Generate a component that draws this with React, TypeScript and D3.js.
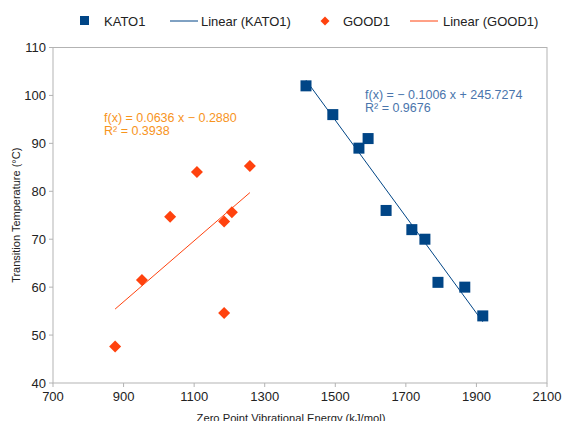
import React from "react";
import * as d3 from "d3";

const katoX = [1417, 1493, 1567, 1593, 1644, 1717, 1754, 1791, 1867, 1918];
const katoY = [102, 96, 89, 91, 76, 72, 70, 61, 60, 54];
const goodX = [876, 952, 1032, 1108, 1185, 1185, 1207, 1258];
const goodY = [47.6, 61.5, 74.7, 84, 54.6, 73.7, 75.6, 85.3];

const katoFit = { slope: -0.1006, intercept: 245.7274 };
const goodFit = { slope: 0.0636, intercept: -0.288 };

const xTicks = [700, 900, 1100, 1300, 1500, 1700, 1900, 2100];
const yTicks = [40, 50, 60, 70, 80, 90, 100, 110];

const katoEq = ["f(x) = − 0.1006 x + 245.7274", "R² = 0.9676"];
const goodEq = ["f(x) = 0.0636 x − 0.2880", "R² = 0.3938"];

const legendLabels = ["KATO1", "Linear (KATO1)", "GOOD1", "Linear (GOOD1)"];

const BLUE = "#004586";
const ORANGE = "#ff420e";
const FONT = "'Liberation Sans', Arial, sans-serif";

export default function App() {
  const W = 563, H = 421;
  const left = 53, right = 547, top = 47.5, bottom = 383;
  const x = d3.scaleLinear().domain([700, 2100]).range([left, right]);
  const y = d3.scaleLinear().domain([40, 110]).range([bottom, top]);

  const line = d3.line<[number, number]>().x(d => x(d[0])).y(d => y(d[1]));
  const fitLine = (xs: number[], f: { slope: number; intercept: number }) => {
    const [a, b] = d3.extent(xs) as [number, number];
    return line([[a, f.slope * a + f.intercept], [b, f.slope * b + f.intercept]]) || "";
  };

  const sq = 11;
  const diamond = (cx: number, cy: number, r: number) =>
    `M${cx},${cy - r}L${cx + r},${cy}L${cx},${cy + r}L${cx - r},${cy}Z`;

  return (
    <svg width={W} height={H} style={{ position: "absolute", left: 0, top: 0 }}>
      <rect x={0} y={0} width={W} height={H} fill="#fff" />
      {/* legend */}
      <g fontFamily={FONT} fontSize={13} fill="#222">
        <rect x={80} y={16} width={9} height={9} fill={BLUE} />
        <text x={104} y={25.5}>{legendLabels[0]}</text>
        <line x1={170} x2={198} y1={21} y2={21} stroke={BLUE} strokeWidth={1} />
        <text x={201} y={25.5}>{legendLabels[1]}</text>
        <path d={diamond(325, 21, 4.5)} fill={ORANGE} />
        <text x={343} y={25.5}>{legendLabels[2]}</text>
        <line x1={410} x2={438} y1={21} y2={21} stroke={ORANGE} strokeWidth={1} />
        <text x={443} y={25.5}>{legendLabels[3]}</text>
      </g>
      {/* frame */}
      <rect x={left} y={top} width={right - left} height={bottom - top} fill="none" stroke="#b3b3b3" strokeWidth={1} />
      {/* ticks */}
      <g fontFamily={FONT} fontSize={13} fill="#222">
        {yTicks.map(t => (
          <g key={t}>
            <line x1={left - 4} x2={left} y1={y(t)} y2={y(t)} stroke="#b3b3b3" />
            <text x={left - 7} y={y(t) + 4.5} textAnchor="end">{t}</text>
          </g>
        ))}
        {xTicks.map(t => (
          <g key={t}>
            <line x1={x(t)} x2={x(t)} y1={bottom} y2={bottom + 4} stroke="#b3b3b3" />
            <text x={x(t)} y={bottom + 18} textAnchor="middle">{t}</text>
          </g>
        ))}
      </g>
      <text x={291} y={421.5} textAnchor="middle" fontFamily={FONT} fontSize={11.2} fill="#222">
        Zero Point Vibrational Energy (kJ/mol)
      </text>
      <text transform={`translate(20,${(top + bottom) / 2}) rotate(-90)`} textAnchor="middle" fontFamily={FONT} fontSize={11} fill="#222">
        Transition Temperature (°C)
      </text>
      {/* trend lines */}
      <path d={fitLine(katoX, katoFit)} stroke={BLUE} strokeWidth={1} fill="none" />
      <path d={fitLine(goodX, goodFit)} stroke={ORANGE} strokeWidth={1} fill="none" />
      {/* points */}
      {katoX.map((v, i) => (
        <rect key={"k" + i} x={x(v) - sq / 2} y={y(katoY[i]) - sq / 2} width={sq} height={sq} fill={BLUE} />
      ))}
      {goodX.map((v, i) => (
        <path key={"g" + i} d={diamond(x(v), y(goodY[i]), 6)} fill={ORANGE} />
      ))}
      {/* equations */}
      <g fontFamily={FONT} fontSize={12.5} fill="#4a75ac">
        <text x={365} y={98.5}>{katoEq[0]}</text>
        <text x={365} y={112}>{katoEq[1]}</text>
      </g>
      <g fontFamily={FONT} fontSize={12.5} fill="#f7941d">
        <text x={104} y={121.5}>{goodEq[0]}</text>
        <text x={104} y={135}>{goodEq[1]}</text>
      </g>
    </svg>
  );
}
